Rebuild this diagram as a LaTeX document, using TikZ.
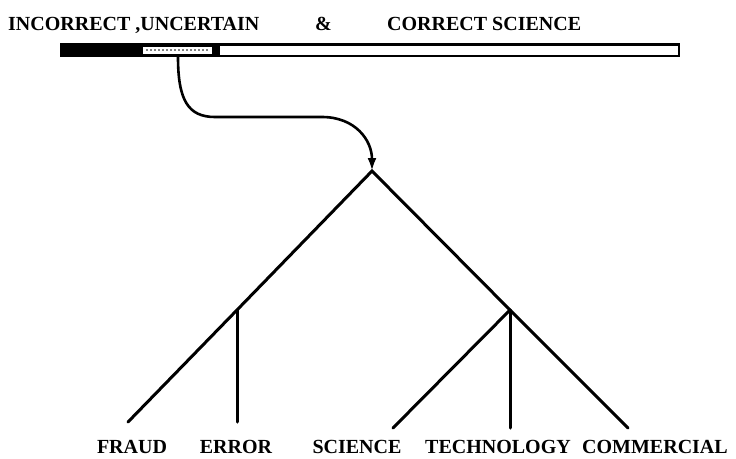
\documentclass[tikz,border=0pt]{standalone}
\usepackage{fontspec}
\setmainfont{Liberation Serif}
\usetikzlibrary{arrows.meta,positioning}

\begin{document}
\begin{tikzpicture}[
      x=1pt,y=-1pt,
      every node/.style={inner sep=0pt,font=\bfseries\fontsize{20}{22}\selectfont},
      label/.style={anchor=base},
      title/.style={anchor=base west},
      branch/.style={line width=3pt,line cap=round},
      flow/.style={-{Latex[length=13pt,width=9pt]},line width=2.6pt}
    ]
      \useasboundingbox (0,0) rectangle (736,458);
      % heading
      \node[title] (incorrect) at (8,30) {INCORRECT ,UNCERTAIN};
      \node[title] (amp) at (315,30) {\&};
      \node[title] (correct) at (387,30) {CORRECT SCIENCE};
      % bar
      \fill[black] (60,43) rectangle (680,57);
      \fill[white] (220,45.5) rectangle (677.5,54.5);
      \fill[white] (143,46.5) rectangle (212,53.5);
      \draw[gray,line width=1.5pt,dash pattern=on 1.5pt off 2.5pt] (146,50) -- (210,50);
      \coordinate (tap) at (178,57);
      % tree
      \coordinate (root) at (372,171);
      \coordinate (left) at (237,310);
      \coordinate (right) at (510,310);
      \coordinate (fraudend) at (128,422);
      \coordinate (errorend) at (237,422);
      \coordinate (scienceend) at (393,428);
      \coordinate (techend) at (510,428);
      \coordinate (commend) at (628,428);
      \draw[flow] (tap) .. controls (178,100) and (188,117) .. (215,117)
        -- (322,117) .. controls (355,117) and (372,140) .. (root);
      \draw[branch] (fraudend) -- (left) -- (root) -- (right) -- (commend);
      \draw[branch] (left) -- (errorend);
      \draw[branch] (right) -- (scienceend);
      \draw[branch] (right) -- (techend);
      % leaves
      \node[label] (fraud) at (132,453) {FRAUD};
      \node[label] (error) at (236,453) {ERROR};
      \node[label] (science) at (357,453) {SCIENCE};
      \node[label] (technology) at (498,453) {TECHNOLOGY};
      \node[label] (commercial) at (655,453) {COMMERCIAL};
    \end{tikzpicture}
\end{document}
